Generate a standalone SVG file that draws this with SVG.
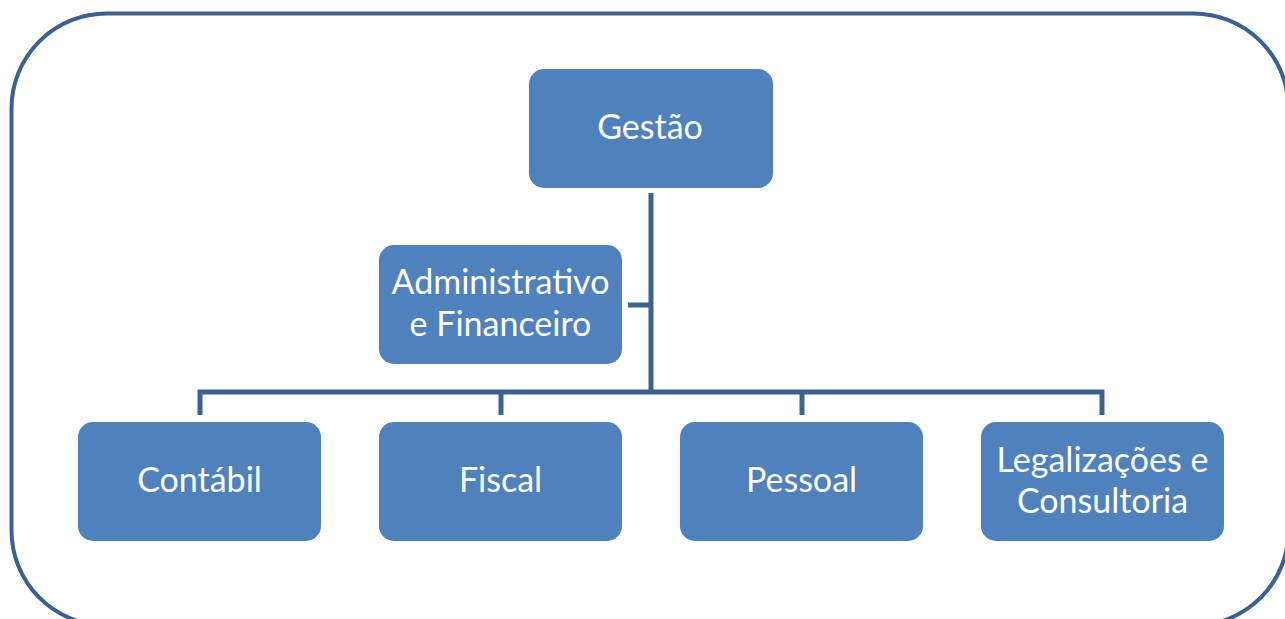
<svg xmlns="http://www.w3.org/2000/svg" width="1285" height="619" viewBox="0 0 1285 619">
<style>
.node{fill:#4f81bd;}
.lbl{font-family:Lato,"Open Sans","Liberation Sans",sans-serif;font-size:34px;fill:#ffffff;text-anchor:middle;}
.conn{stroke:#3c6293;stroke-width:5;fill:none;}
</style>
<rect x="11.5" y="13.5" width="1277" height="612" rx="95" ry="95" fill="#ffffff" stroke="#3a6191" stroke-width="4"/>
<g id="connectors">
<path class="conn" d="M651 193 V392"/>
<path class="conn" d="M628 305 H651"/>
<path class="conn" d="M200 415 V392 H1102 V415"/>
<path class="conn" d="M501 392 V415"/>
<path class="conn" d="M802 392 V415"/>
</g>
<g id="gestao">
<rect class="node" x="529" y="69" width="244" height="119" rx="15"/>
<text class="lbl" x="650" y="139">Gestão</text>
</g>
<g id="administrativo">
<rect class="node" x="379" y="245" width="243" height="119" rx="15"/>
<text class="lbl" x="500.5" y="294">Administrativo</text>
<text class="lbl" x="500.5" y="336">e Financeiro</text>
</g>
<g id="contabil">
<rect class="node" x="78" y="422" width="243" height="119" rx="15"/>
<text class="lbl" x="199.5" y="492">Contábil</text>
</g>
<g id="fiscal">
<rect class="node" x="379" y="422" width="243" height="119" rx="15"/>
<text class="lbl" x="500.5" y="492">Fiscal</text>
</g>
<g id="pessoal">
<rect class="node" x="680" y="422" width="243" height="119" rx="15"/>
<text class="lbl" x="801.5" y="492">Pessoal</text>
</g>
<g id="legalizacoes">
<rect class="node" x="981" y="422" width="243" height="119" rx="15"/>
<text class="lbl" x="1102.5" y="472">Legalizações e</text>
<text class="lbl" x="1102.5" y="513">Consultoria</text>
</g>
</svg>
